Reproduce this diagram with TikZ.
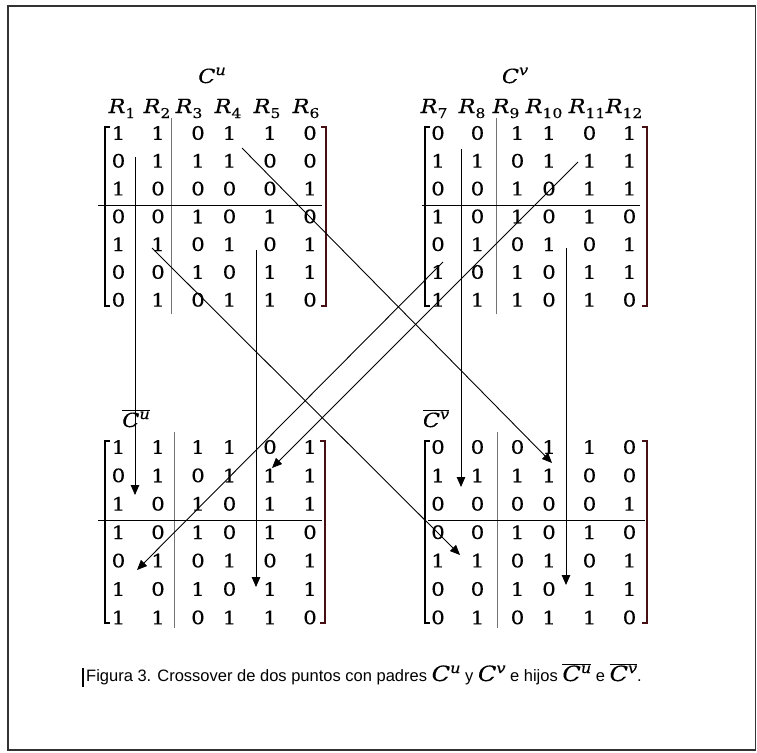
\documentclass[tikz,border=0pt]{standalone}
\usepackage{fontspec}
\newfontfamily\capfont{Liberation Sans}
\newfontfamily\mf[FakeStretch=1.15,FakeBold=0.25]{DejaVu Serif}
\usetikzlibrary{arrows.meta}
\definecolor{brkred}{RGB}{70,15,20}

% symbols of the matrices: R with an index, C with a letter above, C with a bar
\newcommand\symR[1]{{\mf\itshape R}\raisebox{-5pt}{\fontsize{13.5}{14}\selectfont\mf #1}}
\newcommand\symC[1]{{\mf\itshape C}\raisebox{8pt}{\fontsize{14}{15}\selectfont\mf\itshape #1}}
\newcommand\barC[1]{$\overline{\hbox{\symC{#1}}}$}

% #1 name, #2 left x, #3 first row y, #4 row step, #5 rows
\newcommand\drawbinmat[5]{%
  \foreach \r [count=\i] in {#5} {
    \foreach \v [count=\j] in \r {
      \pgfmathsetmacro\cx{#2+{0,39.5,79.5,111,151.5,191.5}[\j-1]}
      \pgfmathsetmacro\cy{#3+(\i-1)*#4}
      \node[entry] (#1-\i-\j) at (\cx,\cy) {\v};
    }
  }
}
% #1 left x, #2 right x, #3 top y, #4 bottom y
\newcommand\drawbrackets[4]{%
  \draw[lbrk] (#1+5,#3) -- (#1,#3) -- (#1,#4) -- (#1+5,#4);
  \draw[rbrk] (#2-5,#3) -- (#2,#3) -- (#2,#4) -- (#2-5,#4);
}

\begin{document}
\begin{tikzpicture}[x=1pt,y=-1pt,
  entry/.style={font=\mf\fontsize{18.5}{20}\selectfont, inner sep=0pt, anchor=center},
  hdr/.style={font=\mf\fontsize{19.5}{21}\selectfont, inner sep=0pt, anchor=base},
  lbrk/.style={line width=1.5pt, black},
  rbrk/.style={line width=1.5pt, brkred},
  sep/.style={line width=0.9pt, black!55},
  hsep/.style={line width=1pt, black},
  arr/.style={line width=0.9pt, black, -{Triangle[length=10pt,width=8.5pt]}}]

\useasboundingbox (0,0) rectangle (757,752);
\draw[line width=1.4pt, black!80] (8,6) rectangle (755.5,750);

% ---------------- parent C^u ----------------
\node[hdr] (tcu) at (212,83) {\symC{u}};
\foreach \k/\x in {1/122,2/157,3/189,4/228,5/267,6/306}
  \node[hdr] (hu\k) at (\x,113) {\symR{\k}};
\drawbinmat{pu}{118.5}{133}{27.8}{
  {1,1,0,1,1,0},{0,1,1,1,0,0},{1,0,0,0,0,1},{0,0,1,0,1,0},
  {1,1,0,1,0,1},{0,0,1,0,1,1},{0,1,0,1,1,0}}
\drawbrackets{105}{326}{127}{306}
\draw[sep] (171,118) -- (171,314);
\draw[hsep] (98,205) -- (322,205);

% ---------------- parent C^v ----------------
\node[hdr] (tcv) at (515,83) {\symC{v}};
\foreach \k/\x in {7/434,8/472,9/506,10/544,11/587,12/624}
  \node[hdr] (hv\k) at (\x,113) {\symR{\k}};
\drawbinmat{pv}{438}{133}{27.8}{
  {0,0,1,1,0,1},{1,1,0,1,1,1},{0,0,1,0,1,1},{1,0,1,0,1,0},
  {0,1,0,1,0,1},{1,0,1,0,1,1},{1,1,1,0,1,0}}
\drawbrackets{425}{647}{127}{306}
\draw[sep] (496,118) -- (496,314);
\draw[hsep] (422,205) -- (640,205);

% ---------------- child C^u ----------------
\node[hdr] (tbu) at (136,427) {\barC{u}};
\drawbinmat{cu}{118.5}{447}{28.4}{
  {1,1,1,1,0,1},{0,1,0,1,1,1},{1,0,1,0,1,1},{1,0,1,0,1,0},
  {0,1,0,1,0,1},{1,0,1,0,1,1},{1,1,0,1,1,0}}
\drawbrackets{105}{325}{441}{623}
\draw[sep] (174,432) -- (174,628);
\draw[hsep] (98,520) -- (322,520);

% ---------------- child C^v ----------------
\node[hdr] (tbv) at (436,427) {\barC{v}};
\drawbinmat{cv}{438}{447}{28.4}{
  {0,0,0,1,1,0},{1,1,1,1,0,0},{0,0,0,0,0,1},{0,0,1,0,1,0},
  {1,1,0,1,0,1},{0,0,1,0,1,1},{0,1,0,1,1,0}}
\drawbrackets{425}{647}{441}{623}
\draw[sep] (497,432) -- (497,628);
\draw[hsep] (428,520) -- (645,520);

% ---------------- crossover arrows ----------------
\coordinate (a1s) at (135,157);  \coordinate (a1e) at (135,495);
\coordinate (a2s) at (256,250);  \coordinate (a2e) at (256,587);
\coordinate (a3s) at (242,148);  \coordinate (a3e) at (552,463);
\coordinate (a4s) at (152,248);  \coordinate (a4e) at (460,555);
\coordinate (a5s) at (461,149);  \coordinate (a5e) at (461,487);
\coordinate (a6s) at (566,248);  \coordinate (a6e) at (566,585);
\coordinate (a7s) at (578,162);  \coordinate (a7e) at (272,468);
\coordinate (a8s) at (443,262);  \coordinate (a8e) at (137,570);
\foreach \k in {1,...,8}
  \draw[arr] (a\k s) -- (a\k e);

% ---------------- caption ----------------
\draw[line width=1.6pt] (83,668) -- (83,687);
\node[anchor=base west, inner sep=0pt, font=\capfont\fontsize{16.5}{18}\selectfont]
  (cap) at (86,681)
  {Figura 3. Crossover de dos puntos con padres {\fontsize{21}{22}\selectfont\symC{u}} y
   {\fontsize{21}{22}\selectfont\symC{v}} e hijos {\fontsize{21}{22}\selectfont\barC{u}}
   e {\fontsize{21}{22}\selectfont\barC{v}}.};
\end{tikzpicture}
\end{document}
